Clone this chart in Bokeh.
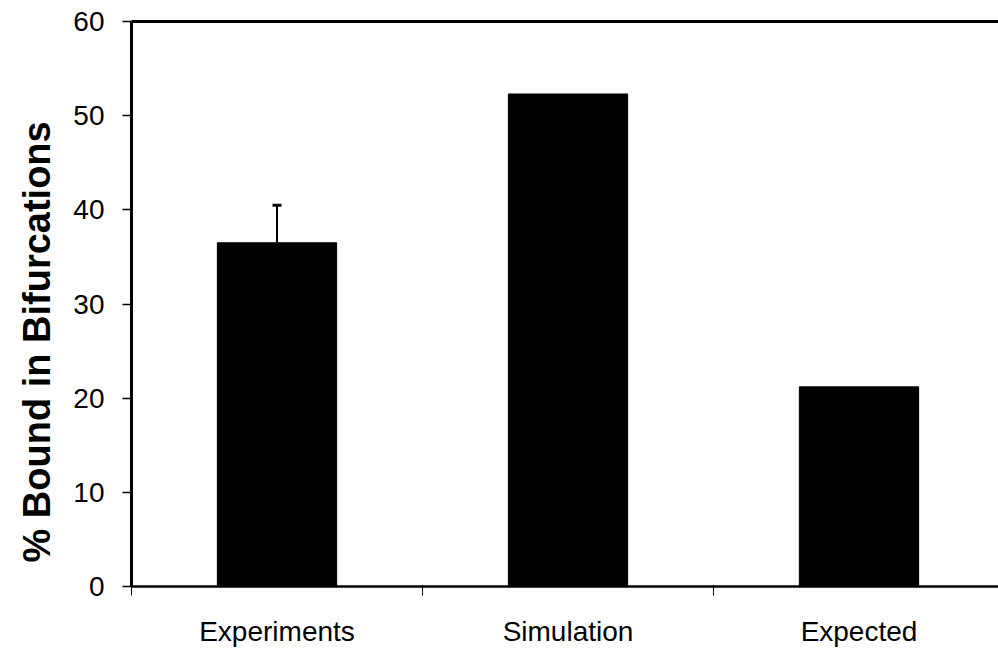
from bokeh.plotting import figure
from bokeh.models import Range1d, FixedTicker, LinearAxis, ColumnDataSource, Whisker, TeeHead, Title
from bokeh.embed import file_html
from bokeh.resources import INLINE

categories = ["Experiments", "Simulation", "Expected"]
values = [36.5, 52.3, 21.2]
err_upper = [40.5, None, None]
y_ticks = [0, 10, 20, 30, 40, 50, 60]
y_title = "% Bound in Bifurcations"

xs = [i + 0.5 for i in range(len(categories))]
boundaries = [i for i in range(len(categories) + 1)]

FONT = "Liberation Sans"

p = figure(width=998, height=649,
           x_range=Range1d(0, 867 / 291), y_range=Range1d(0, 60),
           output_backend="svg", toolbar_location=None,
           min_border_left=131, min_border_right=0,
           min_border_top=21, min_border_bottom=63)

p.vbar(x=xs, top=values, width=0.41, color="black")

ex = [x for x, e in zip(xs, err_upper) if e is not None]
ev = [v for v, e in zip(values, err_upper) if e is not None]
eu = [e for e in err_upper if e is not None]
src = ColumnDataSource(dict(x=ex, lower=ev, upper=eu))
w = Whisker(base="x", lower="lower", upper="upper", source=src,
            line_color="black", line_width=2,
            lower_head=None,
            upper_head=TeeHead(size=9, line_color="black", line_width=3))
p.add_layout(w)

p.grid.visible = False
p.outline_line_color = None
p.background_fill_color = "white"
p.border_fill_color = "white"

# y axis
ya = p.yaxis[0]
ya.ticker = FixedTicker(ticks=y_ticks)
ya.axis_line_width = 3
ya.axis_line_color = "black"
ya.major_tick_out = 9
ya.major_tick_in = 0
ya.major_tick_line_width = 1.5
ya.minor_tick_out = 0
ya.minor_tick_in = 0
ya.major_label_text_font = FONT
ya.major_label_text_font_size = "28px"
ya.major_label_text_color = "black"
ya.major_label_standoff = 18

# y title (placed low, as in the reference)
ytitle = Title(text=y_title, align="left", offset=24, standoff=26,
               text_font=FONT, text_font_style="bold", text_font_size="38px",
               text_color="black")
p.add_layout(ytitle, "left")

# x axis
xa = p.xaxis[0]
xa.ticker = FixedTicker(ticks=xs, minor_ticks=boundaries)
xa.axis_line_width = 2.5
xa.axis_line_color = "black"
xa.major_tick_out = 0
xa.major_tick_in = 0
xa.minor_tick_out = 9
xa.minor_tick_in = 0
xa.minor_tick_line_color = "black"
xa.minor_tick_line_width = 1
xa.major_label_overrides = {x: c for x, c in zip(xs, categories)}
xa.major_label_text_font = FONT
xa.major_label_text_font_size = "28px"
xa.major_label_text_color = "black"
xa.major_label_standoff = 20

# top border
top = LinearAxis(ticker=FixedTicker(ticks=[]), axis_line_width=3, axis_line_color="black",
                 major_tick_out=0, major_tick_in=0, minor_tick_out=0, minor_tick_in=0,
                 major_label_text_font_size="0px")
p.add_layout(top, "above")

open("out.html", "w").write(file_html(p, INLINE))
